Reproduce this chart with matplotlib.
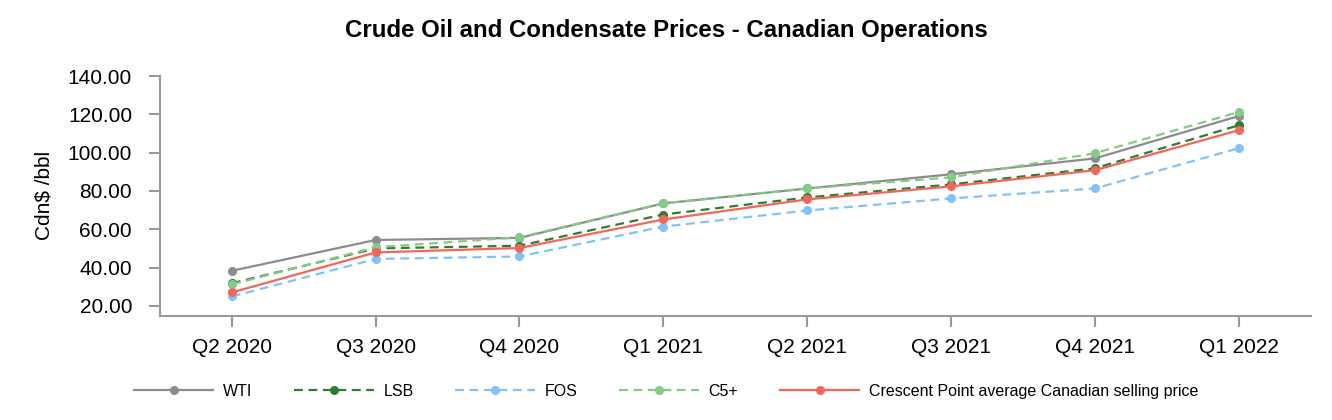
# %%
import numpy as np
import matplotlib
matplotlib.use('Agg')
import matplotlib.pyplot as plt

plt.rcParams['font.family'] = ['Liberation Sans', 'DejaVu Sans']
# %%
quarters = ['Q2 2020', 'Q3 2020', 'Q4 2020', 'Q1 2021', 'Q2 2021', 'Q3 2021', 'Q4 2021', 'Q1 2022']
wti = [38.3, 54.4, 55.5, 73.5, 81.3, 88.7, 97.0, 119.1]
lsb = [31.8, 50.0, 51.4, 67.7, 76.6, 83.4, 91.8, 114.3]
fos = [24.9, 44.5, 45.8, 61.4, 69.8, 76.1, 81.3, 102.3]
c5 = [31.2, 50.6, 55.8, 73.5, 81.3, 87.1, 99.7, 121.2]
csp = [27.0, 47.9, 50.2, 65.1, 75.6, 82.4, 90.8, 111.7]
# %%
fig = plt.figure(figsize=(13.32, 4.2), dpi=100)
ax = fig.add_axes([0.120, 0.248, 0.864, 0.571])
x = np.arange(len(quarters))

ax.plot(x, wti, color='#8c8c8c', lw=1.6, marker='o', ms=5.5, label='WTI')
ax.plot(x, lsb, color='#2e7d32', lw=1.6, ls=(0, (4, 2.5)), marker='o', ms=5.5, label='LSB')
ax.plot(x, fos, color='#82c3f7', lw=1.6, ls=(0, (4, 2.5)), marker='o', ms=5.5, label='FOS')
ax.plot(x, c5, color='#83cc85', lw=1.6, ls=(0, (4, 2.5)), marker='o', ms=5.5, label='C5+')
ax.plot(x, csp, color='#f2675a', lw=1.6, marker='o', ms=5.5,
        label='Crescent Point average Canadian selling price')

ax.set_xlim(-0.5, 7.5)
ax.set_ylim(14.8, 140)
ax.set_yticks(np.arange(20, 141, 20))
ax.set_yticklabels(['%.2f' % v for v in np.arange(20, 141, 20)])
ax.set_xticks(x)
ax.set_xticklabels(quarters)
ax.tick_params(axis='both', colors='#999999', labelcolor='black', labelsize=15,
               length=8, width=1.5)
ax.tick_params(axis='x', pad=8)
ax.tick_params(axis='y', pad=12)
for s in ['top', 'right']:
    ax.spines[s].set_visible(False)
for s in ['left', 'bottom']:
    ax.spines[s].set_color('#999999')
    ax.spines[s].set_linewidth(1.5)
ax.set_ylabel('Cdn$ /bbl', fontsize=15, labelpad=10)

fig.suptitle('Crude Oil and Condensate Prices - Canadian Operations',
             fontsize=17.3, fontweight='bold', x=0.5, y=0.955)
fig.legend(loc='center', bbox_to_anchor=(0.5, 0.069), ncol=5, frameon=False,
           fontsize=11.5, handlelength=5.0, handletextpad=0.6, columnspacing=2.6)

plt.savefig('out.png', dpi=100)
